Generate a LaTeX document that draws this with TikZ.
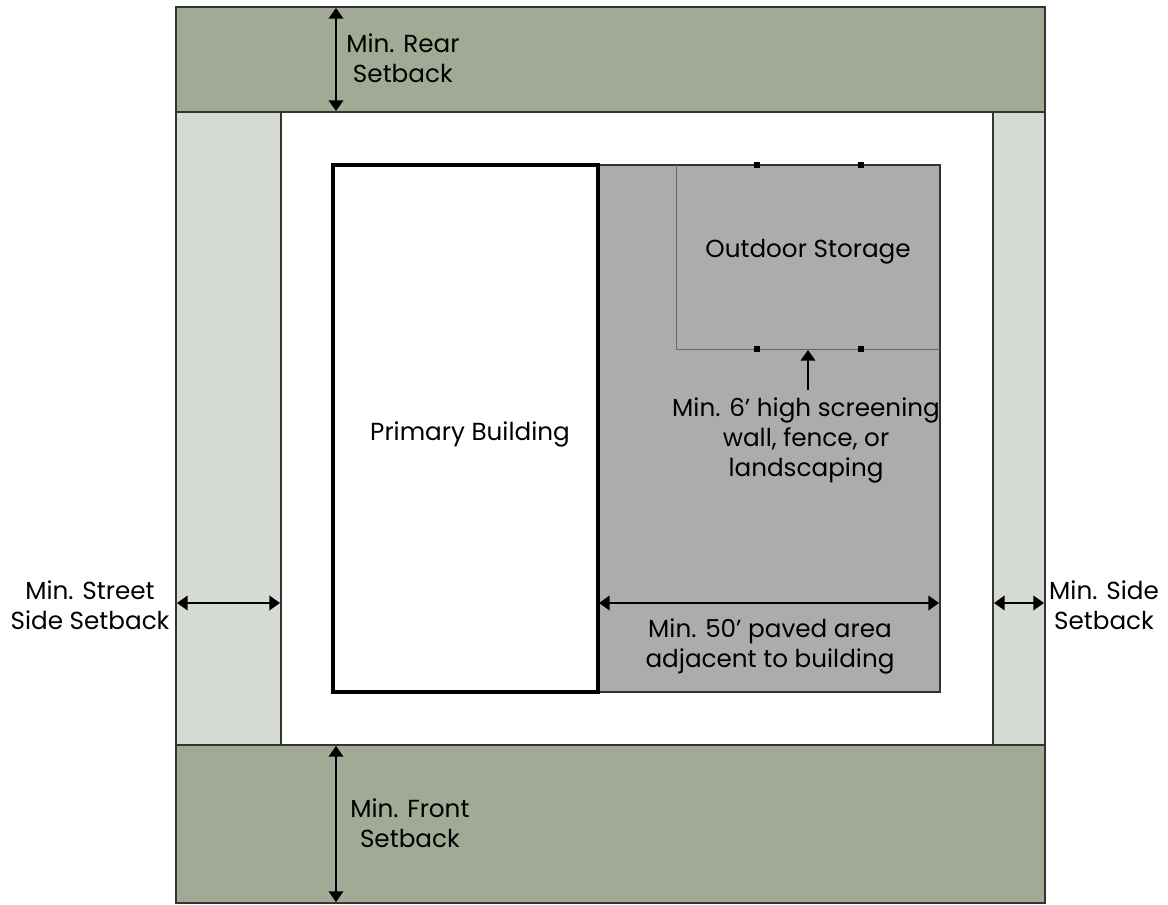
\documentclass[tikz,border=0pt]{standalone}
\usepackage{fontspec}
\setmainfont{Poppins}
\usetikzlibrary{arrows.meta,positioning}

\definecolor{setbackgreen}{RGB}{160,170,148}
\definecolor{sidestrip}{RGB}{213,218,210}
\definecolor{pavedgray}{RGB}{172,172,172}

\begin{document}
\begin{tikzpicture}[x=0.75pt,y=-0.75pt,
  zone/.style={draw=black!80,line width=0.9pt},
  dim/.style={{Triangle[width=11pt,length=8pt]}-{Triangle[width=11pt,length=8pt]},line width=1.3pt},
  pointer/.style={-{Triangle[width=11pt,length=8pt]},line width=1.3pt},
  lbl/.style={font=\fontsize{18.5}{22.5}\selectfont,align=center,inner sep=0pt},
  post/.style={fill=black,minimum size=4.5pt,inner sep=0pt}]
  \useasboundingbox (0,0) rectangle (1168,905);

  % lot and setbacks
  \filldraw[zone,fill=white] (176,7) rectangle (1045,903);
  \filldraw[zone,fill=setbackgreen] (176,7) rectangle (1045,112);
  \filldraw[zone,fill=setbackgreen] (176,745) rectangle (1045,903);
  \filldraw[zone,fill=sidestrip] (176,112) rectangle (281,745);
  \filldraw[zone,fill=sidestrip] (993,112) rectangle (1045,745);

  % paved area and storage
  \filldraw[draw=black!80,line width=0.9pt,fill=pavedgray] (598,165) rectangle (940,692);
  \draw[black!60,line width=0.6pt] (676,165) |- (940,349);
  \node[post] (post1) at (757,165) {};
  \node[post] (post2) at (861,165) {};
  \node[post] (post3) at (757,349) {};
  \node[post] (post4) at (861,349) {};
  \draw[black,line width=3pt,fill=white] (333,165) rectangle (598,692);

  \node[lbl] (building) at (470,434) {Primary Building};
  \node[lbl] (storage) at (808,252) {Outdoor Storage};
  \node[lbl] (screen) at (806,440) {Min. 6’ high screening\\wall, fence, or\\landscaping};
  \node[lbl] (paved) at (770,646) {Min. 50’ paved area\\adjacent to building};
  \node[lbl,anchor=west] (rear) at (346,58) {Min. Rear\\Setback};
  \node[lbl,anchor=west] (front) at (350,823) {Min. Front\\Setback};
  \node[lbl] (street) at (90,605) {Min. Street\\Side Setback};
  \node[lbl] (side) at (1104,605) {Min. Side\\Setback};

  \coordinate (rear top) at (336,8);
  \coordinate (rear bot) at (336,111);
  \coordinate (front top) at (336,746);
  \coordinate (front bot) at (336,902);
  \coordinate (street l) at (177,603);
  \coordinate (street r) at (280,603);
  \coordinate (side l) at (994,603);
  \coordinate (side r) at (1044,603);
  \coordinate (paved l) at (599,603);
  \coordinate (paved r) at (939,603);
  \coordinate (wall) at (808,350);
  \coordinate (wall foot) at (808,390);

  \draw[dim] (rear top) -- (rear bot);
  \draw[dim] (front top) -- (front bot);
  \draw[dim] (street l) -- (street r);
  \draw[dim] (side l) -- (side r);
  \draw[dim] (paved l) -- (paved r);
  \draw[pointer] (wall foot) -- (wall);
\end{tikzpicture}
\end{document}
